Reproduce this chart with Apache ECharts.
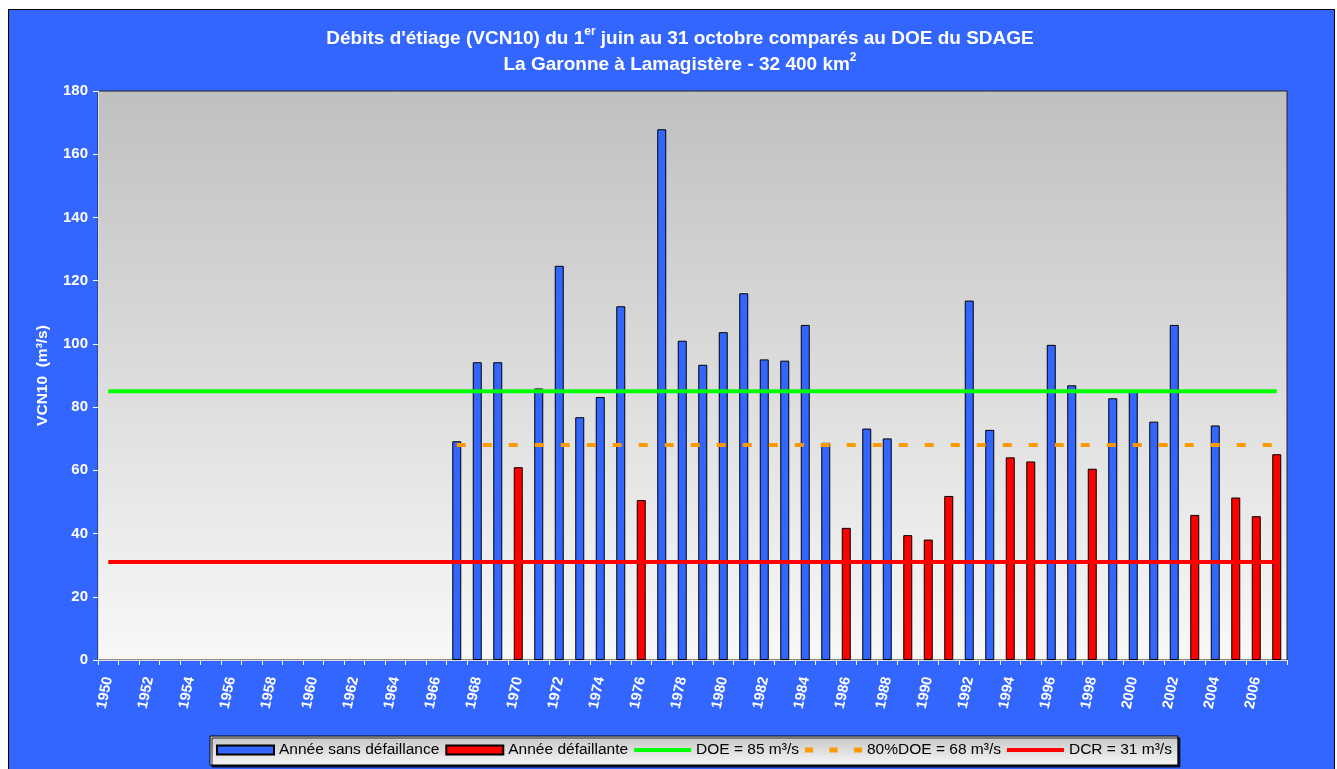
<!DOCTYPE html>
<html>
<head>
<meta charset="utf-8">
<title>VCN10 La Garonne à Lamagistère</title>
<script src="https://cdn.jsdelivr.net/npm/echarts@6/dist/echarts.min.js"></script>
<style>
  html, body { margin: 0; padding: 0; background: #ffffff; overflow: hidden; }
  #frame {
    position: absolute; left: 8px; top: 9px; width: 1325px; height: 780px;
    background: #3366ff; border: 1px solid #000000;
  }
  #chart { position: absolute; left: 0; top: 0; width: 1337px; height: 769px; }
</style>
</head>
<body>
<div id="frame"></div>
<div id="chart"></div>
<script>
// années 1950 -> 2007
var years = []
for (var y = 1950; y <= 2007; y++) years.push(String(y))

// VCN10 (m3/s), 1967 -> 2007
var dataYears = ['1967', '1968', '1969', '1970', '1971', '1972', '1973', '1974', '1975', '1976',
  '1977', '1978', '1979', '1980', '1981', '1982', '1983', '1984', '1985', '1986',
  '1987', '1988', '1989', '1990', '1991', '1992', '1993', '1994', '1995', '1996',
  '1997', '1998', '1999', '2000', '2001', '2002', '2003', '2004', '2005', '2006', '2007']
// année sans défaillance (bleu)
var sansDefaillance = [69.2, 94.2, 94.2, null, 85.9, 124.7, 76.8, 83.2, 111.9, null,
  167.9, 101.0, 93.4, 103.7, 116.0, 95.1, 94.7, 106.0, 68.7, null,
  73.2, 70.1, null, null, null, 113.7, 72.8, null, null, 99.7,
  86.9, null, 82.8, 85.2, 75.4, 106.0, null, 74.2, null, null, null]
// année défaillante (rouge)
var defaillante = [null, null, null, 61.0, null, null, null, null, null, 50.6,
  null, null, null, null, null, null, null, null, null, 41.8,
  null, null, 39.5, 38.1, 51.9, null, null, 64.1, 62.8, null,
  null, 60.5, null, null, null, null, 45.9, null, 51.4, 45.5, 65.1]

// seuils
var DOE = 85
var DOE80 = 68
var DCR = 31
var yTicks = { min: 0, max: 180, interval: 20 }

var font = 'Arial, "Liberation Sans", sans-serif'

function pairs(cats, vals) {
  return cats.map(function (c, i) { return [c, vals[i]] })
}

// icônes de légende pour les lignes (trait plein / tirets)
var iconLine = 'path://M0,0h57v4h-57z'
var iconDash = 'path://M0,0h8v5h-8z M24,0h8v5h-8z M48,0h8v5h-8z'

var chart = echarts.init(document.getElementById('chart'))
var option = {
  backgroundColor: 'transparent',
  animation: false,
  textStyle: { fontFamily: font },
  title: {
    left: 675,
    top: 21,
    textAlign: 'center',
    text: '{a|Débits d\'étiage (VCN10) du 1}{s|er}{a| juin au 31 octobre comparés au DOE du SDAGE}\n' +
      '{a|La Garonne à Lamagistère - 32 400 km}{s|2}',
    textStyle: {
      rich: {
        a: { color: '#ffffff', fontSize: 19, fontWeight: 'bold', fontFamily: font, lineHeight: 26 },
        s: { color: '#ffffff', fontSize: 12, fontWeight: 'bold', fontFamily: font, lineHeight: 14, verticalAlign: 'top' }
      }
    }
  },
  legend: {
    left: 210,
    top: 736,
    padding: [6, 6, 7, 6],
    itemWidth: 57,
    itemHeight: 9,
    itemGap: 6,
    backgroundColor: new echarts.graphic.LinearGradient(0, 0, 0, 1, [
      { offset: 0, color: '#c4c4c4' },
      { offset: 1, color: '#f8f8f8' }
    ]),
    borderColor: '#000000',
    borderWidth: 1,
    shadowColor: 'rgba(0,0,0,0.8)',
    shadowOffsetX: 2,
    shadowOffsetY: 2,
    textStyle: { color: '#000000', fontSize: 15.5, fontFamily: font },
    data: [
      { name: 'Année sans défaillance', icon: 'rect' },
      { name: 'Année défaillante', icon: 'rect' },
      { name: 'DOE = 85 m³/s', icon: iconLine },
      { name: '80%DOE = 68 m³/s', icon: iconDash },
      { name: 'DCR = 31 m³/s', icon: iconLine }
    ]
  },
  grid: {
    left: 98,
    right: 50,
    top: 91,
    bottom: 109,
    show: true,
    borderColor: '#222222',
    borderWidth: 1,
    backgroundColor: new echarts.graphic.LinearGradient(0, 0, 0, 1, [
      { offset: 0, color: '#c0c0c0' },
      { offset: 1, color: '#f8f8f8' }
    ])
  },
  xAxis: {
    type: 'category',
    data: years,
    boundaryGap: true,
    axisLine: { show: true, lineStyle: { color: '#dddddd', width: 1 } },
    axisTick: { show: true, interval: 0, length: 5, lineStyle: { color: '#ffffff' } },
    axisLabel: {
      interval: 1,
      rotate: 78,
      margin: 17,
      color: '#ffffff',
      fontSize: 14.5,
      fontWeight: 'bold',
      fontFamily: font
    },
    splitLine: { show: false }
  },
  yAxis: {
    type: 'value',
    min: yTicks.min,
    max: yTicks.max,
    interval: yTicks.interval,
    name: 'VCN10  (m³/s)',
    nameLocation: 'middle',
    nameGap: 47,
    nameTextStyle: { color: '#ffffff', fontSize: 15.5, fontWeight: 'bold', fontFamily: font },
    axisLine: { show: true, lineStyle: { color: '#dddddd' } },
    axisTick: { show: true, length: 5, lineStyle: { color: '#ffffff' } },
    axisLabel: { color: '#ffffff', fontSize: 15, fontWeight: 'bold', margin: 10, fontFamily: font },
    splitLine: { show: false }
  },
  series: [
    {
      name: 'Année sans défaillance',
      type: 'bar',
      barWidth: 9,
      barGap: '-100%',
      itemStyle: { color: '#3366ff', borderColor: '#000000', borderWidth: 1 },
      data: pairs(dataYears, sansDefaillance),
      z: 2
    },
    {
      name: 'Année défaillante',
      type: 'bar',
      barWidth: 9,
      barGap: '-100%',
      itemStyle: { color: '#ff0000', borderColor: '#000000', borderWidth: 1 },
      data: pairs(dataYears, defaillante),
      z: 2
    },
    {
      name: 'DOE = 85 m³/s',
      type: 'line',
      symbol: 'none',
      lineStyle: { color: '#00ff00', width: 4 },
      itemStyle: { color: '#00ff00' },
      data: [[years[0], DOE], [years[years.length - 1], DOE]],
      z: 3
    },
    {
      name: '80%DOE = 68 m³/s',
      type: 'line',
      symbol: 'none',
      lineStyle: { color: '#ff9900', width: 4, type: [9, 17] },
      itemStyle: { color: '#ff9900' },
      data: [[dataYears[0], DOE80], [dataYears[dataYears.length - 1], DOE80]],
      z: 3
    },
    {
      name: 'DCR = 31 m³/s',
      type: 'line',
      symbol: 'none',
      lineStyle: { color: '#ff0000', width: 4 },
      itemStyle: { color: '#ff0000' },
      data: [[years[0], DCR], [years[years.length - 1], DCR]],
      z: 3
    }
  ]
}
chart.setOption(option)
</script>
</body>
</html>
